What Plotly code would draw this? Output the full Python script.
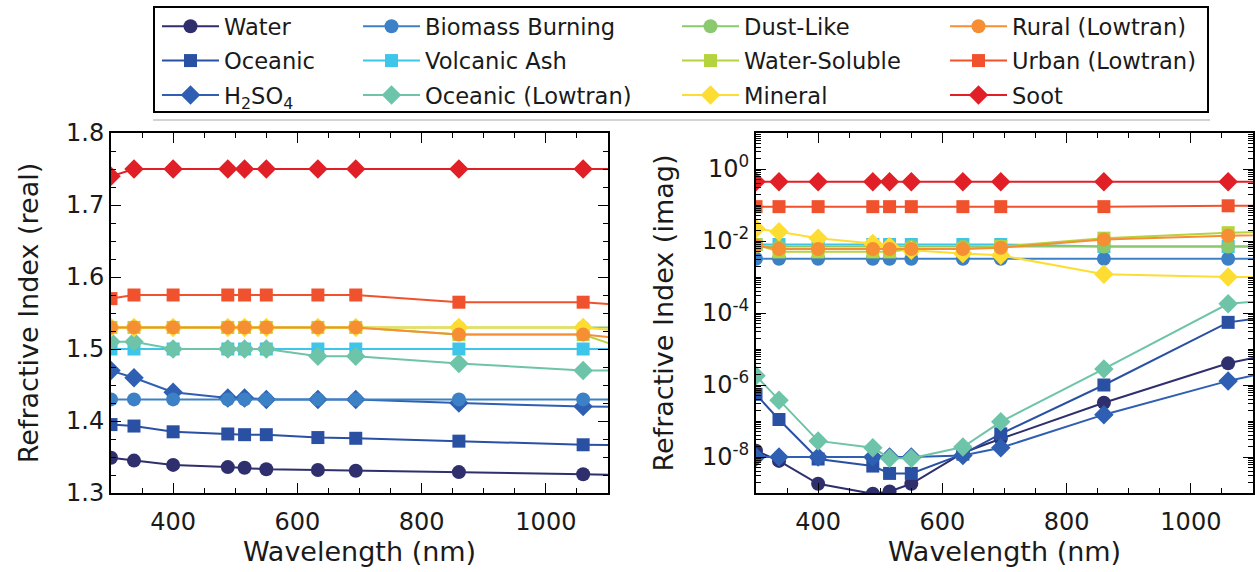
import plotly.graph_objects as go

# Wavelengths (nm) of the tabulated refractive indices
wavelength = [300, 337, 400, 488, 515, 550, 633, 694, 860, 1060, 1300]

# Real part of the refractive index
water_n = [1.349, 1.345, 1.339, 1.336, 1.335, 1.333, 1.332, 1.331, 1.329, 1.326, 1.323]
oceanic_n = [1.395, 1.393, 1.385, 1.382, 1.381, 1.381, 1.377, 1.376, 1.372, 1.367, 1.365]
h2so4_n = [1.47, 1.46, 1.44, 1.432, 1.432, 1.43, 1.43, 1.43, 1.425, 1.42, 1.418]
biomass_n = [1.43, 1.43, 1.43, 1.43, 1.43, 1.43, 1.43, 1.43, 1.43, 1.43, 1.43]
volcanic_n = [1.50, 1.50, 1.50, 1.50, 1.50, 1.50, 1.50, 1.50, 1.50, 1.50, 1.50]
oceanic_lt_n = [1.51, 1.51, 1.50, 1.50, 1.50, 1.50, 1.49, 1.49, 1.48, 1.47, 1.47]
dust_n = [1.53, 1.53, 1.53, 1.53, 1.53, 1.53, 1.53, 1.53, 1.53, 1.53, 1.53]
watersol_n = [1.53, 1.53, 1.53, 1.53, 1.53, 1.53, 1.53, 1.53, 1.52, 1.52, 1.45]
mineral_n = [1.53, 1.53, 1.53, 1.53, 1.53, 1.53, 1.53, 1.53, 1.53, 1.53, 1.51]
rural_n = [1.53, 1.53, 1.53, 1.53, 1.53, 1.53, 1.53, 1.53, 1.52, 1.52, 1.50]
urban_n = [1.57, 1.575, 1.575, 1.575, 1.575, 1.575, 1.575, 1.575, 1.565, 1.565, 1.55]
soot_n = [1.74, 1.75, 1.75, 1.75, 1.75, 1.75, 1.75, 1.75, 1.75, 1.75, 1.75]

# Imaginary part of the refractive index
water_k = [1.5e-8, 7.8e-9, 1.8e-9, 9.5e-10, 1.1e-9, 1.8e-9, 1.3e-8, 3.2e-8, 3.2e-7, 4.0e-6, 3.2e-5]
oceanic_k = [5.5e-7, 1.1e-7, 8.8e-9, 5.6e-9, 3.5e-9, 3.5e-9, 1.2e-8, 4.4e-8, 1.0e-6, 5.5e-5, 2.0e-4]
h2so4_k = [1.0e-8, 1.0e-8, 1.0e-8, 1.0e-8, 1.0e-8, 1.0e-8, 1.1e-8, 1.8e-8, 1.5e-7, 1.3e-6, 1.0e-5]
biomass_k = [0.0032, 0.0032, 0.0032, 0.0032, 0.0032, 0.0032, 0.0032, 0.0032, 0.0032, 0.0032, 0.0032]
volcanic_k = [0.008, 0.008, 0.008, 0.008, 0.008, 0.008, 0.008, 0.008, 0.007, 0.007, 0.007]
oceanic_lt_k = [1.8e-6, 3.8e-7, 2.8e-8, 1.8e-8, 9.3e-9, 9.3e-9, 1.9e-8, 9.5e-8, 2.8e-6, 1.8e-4, 4.0e-4]
dust_k = [0.007, 0.007, 0.007, 0.007, 0.007, 0.007, 0.007, 0.007, 0.007, 0.007, 0.007]
watersol_k = [0.008, 0.005, 0.005, 0.005, 0.005, 0.006, 0.006, 0.007, 0.012, 0.017, 0.020]
mineral_k = [0.022, 0.018, 0.012, 0.0085, 0.007, 0.0055, 0.0045, 0.004, 0.0012, 0.001, 0.001]
rural_k = [0.0075, 0.006, 0.006, 0.006, 0.006, 0.006, 0.006, 0.0065, 0.011, 0.014, 0.017]
urban_k = [0.09, 0.09, 0.09, 0.09, 0.09, 0.09, 0.09, 0.09, 0.09, 0.095, 0.10]
soot_k = [0.44, 0.44, 0.44, 0.44, 0.44, 0.44, 0.44, 0.44, 0.44, 0.44, 0.44]

# Axis tick labels
real_ticks = [1.3, 1.4, 1.5, 1.6, 1.7, 1.8]
imag_ticks = [1e-8, 1e-6, 1e-4, 1e-2, 1]
imag_ticktext = ["10<sup>-8</sup>", "10<sup>-6</sup>", "10<sup>-4</sup>",
                 "10<sup>-2</sup>", "10<sup>0</sup>"]

# name, real, imag, colour, marker symbol, legend column
series = [
    ("Water", water_n, water_k, "#2e2f6c", "circle", "legend"),
    ("Oceanic", oceanic_n, oceanic_k, "#2a50a3", "square", "legend"),
    ("H<sub>2</sub>SO<sub>4</sub>", h2so4_n, h2so4_k, "#2f5fb3", "diamond", "legend"),
    ("Biomass Burning", biomass_n, biomass_k, "#3c80c6", "circle", "legend2"),
    ("Volcanic Ash", volcanic_n, volcanic_k, "#3ec5ea", "square", "legend2"),
    ("Oceanic (Lowtran)", oceanic_lt_n, oceanic_lt_k, "#6ec4a8", "diamond", "legend2"),
    ("Dust-Like", dust_n, dust_k, "#8bc96e", "circle", "legend3"),
    ("Water-Soluble", watersol_n, watersol_k, "#b5d33c", "square", "legend3"),
    ("Mineral", mineral_n, mineral_k, "#fedd33", "diamond", "legend3"),
    ("Rural (Lowtran)", rural_n, rural_k, "#f68e33", "circle", "legend4"),
    ("Urban (Lowtran)", urban_n, urban_k, "#f0522d", "square", "legend4"),
    ("Soot", soot_n, soot_k, "#e11f27", "diamond", "legend4"),
]

marker_size = {"circle": 14, "square": 13, "diamond": 15}

fig = go.Figure()
for name, n_vals, k_vals, color, symbol, legend in series:
    common = dict(
        mode="lines+markers",
        line=dict(color=color, width=2),
        marker=dict(symbol=symbol, size=marker_size[symbol], color=color,
                    line=dict(width=0)),
        legendgroup=name,
        legend=legend,
        name=name,
    )
    fig.add_trace(go.Scatter(x=wavelength, y=n_vals, xaxis="x", yaxis="y",
                             showlegend=True, **common))
    fig.add_trace(go.Scatter(x=wavelength, y=k_vals, xaxis="x2", yaxis="y2",
                             showlegend=False, **common))

W, H = 1255, 572


def px_x(p):
    return p / W


def px_y(p):
    return 1 - p / H


TEXT = "#1a1a1a"
font_tick = dict(family="DejaVu Sans", size=24, color=TEXT)
font_title = dict(family="DejaVu Sans", size=27, color=TEXT)
font_legend = dict(family="DejaVu Sans", size=22.6, color=TEXT)

axis_common = dict(
    showline=True, linewidth=2, linecolor="black", mirror="ticks",
    ticks="inside", ticklen=10, tickwidth=1.3, tickcolor="black",
    showgrid=False, zeroline=False, tickfont=font_tick,
)

x_common = dict(
    range=[300, 1100], tick0=0, dtick=200, ticklabelstandoff=6,
    minor=dict(ticks="inside", ticklen=5, tickwidth=1.1, tickcolor="black",
               dtick=50, tick0=0, showgrid=False),
    title=dict(text="Wavelength (nm)", font=font_title, standoff=2),
    **axis_common,
)

domain_y = [px_y(493), px_y(133)]

layout_legends = {}
legend_x = {"legend": 157, "legend2": 358, "legend3": 677, "legend4": 945}
for key, x0 in legend_x.items():
    layout_legends[key] = dict(
        x=px_x(x0), y=px_y(5), xanchor="left", yanchor="top",
        orientation="v", bgcolor="rgba(0,0,0,0)", borderwidth=0,
        font=font_legend, itemwidth=57, tracegroupgap=2,
        itemclick=False, itemdoubleclick=False,
    )

imag_minor = [m * 10.0 ** e for e in range(-9, 1) for m in range(1, 10)
              if not (m == 1 and e % 2 == 0)]

fig.update_layout(
    width=W, height=H,
    margin=dict(l=0, r=0, t=0, b=0, autoexpand=False),
    paper_bgcolor="white", plot_bgcolor="white",
    font=font_tick,
    xaxis=dict(domain=[px_x(111), px_x(608)], anchor="y", **x_common),
    xaxis2=dict(domain=[px_x(756), px_x(1253)], anchor="y2", **x_common),
    yaxis=dict(
        domain=domain_y, anchor="x", range=[1.3, 1.8],
        tickmode="array", tickvals=real_ticks,
        ticktext=[f"{v:.1f}" for v in real_ticks],
        minor=dict(ticks="inside", ticklen=5, tickwidth=1.1, tickcolor="black",
                   dtick=0.025, tick0=1.3, showgrid=False),
        title=dict(text="Refractive Index (real)", font=font_title, standoff=20),
        **axis_common,
    ),
    yaxis2=dict(
        domain=domain_y, anchor="x2", type="log", range=[-9, 1],
        tickmode="array", tickvals=imag_ticks, ticktext=imag_ticktext,
        minor=dict(ticks="inside", ticklen=5, tickwidth=1.1, tickcolor="black",
                   tickmode="array", tickvals=imag_minor, showgrid=False),
        title=dict(text="Refractive Index (imag)", font=font_title, standoff=20),
        **axis_common,
    ),
    showlegend=True,
    **layout_legends,
)

# Frame drawn around the four legend columns, with its faint shadow edge
fig.add_shape(type="line", xref="paper", yref="paper",
              x0=px_x(153), x1=px_x(1210), y0=px_y(120), y1=px_y(120),
              line=dict(color="#c4c4c4", width=1.5), layer="below")
fig.add_shape(type="rect", xref="paper", yref="paper",
              x0=px_x(154), x1=px_x(1208), y0=px_y(112), y1=px_y(7),
              line=dict(color="black", width=2), fillcolor="rgba(0,0,0,0)",
              layer="above")

fig.write_html("out.html")
